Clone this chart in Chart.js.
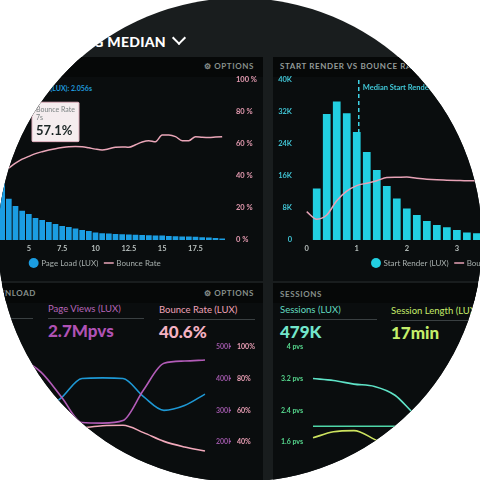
<!DOCTYPE html>
<html>
<head>
<meta charset="utf-8">
<script src="https://cdn.jsdelivr.net/npm/chart.js@4.4.1/dist/chart.umd.min.js"></script>
<style>
  html, body { margin: 0; padding: 0; background: #fff; }
  body { width: 480px; height: 480px; overflow: hidden; font-family: Lato, sans-serif; }
  #dash { position: absolute; left: -2px; top: -2px; width: 484px; height: 484px; border-radius: 50%; overflow: hidden; background: #191d1e; }
  #inner { position: absolute; left: 2px; top: 2px; width: 480px; height: 480px; }
  .panel { position: absolute; background: #0a0d0e; }
  .strip { position: absolute; left: 0; top: 0; right: 0; height: 20px; background: #060808; }
  .cap { position: absolute; font-weight: 700; font-size: 8px; letter-spacing: .6px; color: #86908c; white-space: nowrap; }
  .mlabel { position: absolute; font-size: 9.5px; white-space: nowrap; }
  .mvalue { position: absolute; font-size: 17px; font-weight: 900; white-space: nowrap; }
  .rule { position: absolute; height: 1px; background: #3a4042; }
  canvas { position: absolute; }
</style>
</head>
<body>
<div id="dash"><div id="inner">
  <div class="panel" style="left:-10px;top:57px;width:273px;height:224px"><div class="strip"></div></div>
  <div class="panel" style="left:273px;top:57px;width:220px;height:224px"><div class="strip"></div></div>
  <div class="panel" style="left:-10px;top:283px;width:273px;height:200px"><div class="strip"></div></div>
  <div class="panel" style="left:273px;top:283px;width:220px;height:200px"><div class="strip"></div></div>

  <div style="position:absolute;right:314px;top:33px;color:#fff;font-weight:900;font-size:14px;letter-spacing:.3px;white-space:nowrap">SHOWING MEDIAN</div>
  <div style="position:absolute;left:174px;top:33px;width:8px;height:8px;border-right:2.5px solid #fff;border-bottom:2.5px solid #fff;transform:rotate(45deg)"></div>

  <div class="cap" style="left:204px;top:61px">&#9881; OPTIONS</div>
  <div class="cap" style="left:280px;top:61px;color:#939b99">START RENDER VS BOUNCE RATE</div>
  <div style="position:absolute;right:388px;top:84px;font-size:7px;font-weight:700;color:#1f98da;white-space:nowrap">Median Page Load (LUX): 2.056s</div>

  <div class="cap" style="right:444px;top:288px">DOWNLOAD</div>
  <div class="cap" style="left:204px;top:288px">&#9881; OPTIONS</div>
  <div class="cap" style="left:280px;top:289px">SESSIONS</div>

  <div class="rule" style="left:-63px;top:318px;width:96px"></div>
  <div class="mlabel" style="left:48px;top:303px;color:#b766b9">Page Views (LUX)</div>
  <div class="rule" style="left:48px;top:318px;width:96px"></div>
  <div class="mvalue" style="left:48px;top:320px;color:#b052b5">2.7Mpvs</div>

  <div class="mlabel" style="left:159px;top:304px;color:#f0a3b9">Bounce Rate (LUX)</div>
  <div class="rule" style="left:159px;top:319px;width:96px"></div>
  <div class="mvalue" style="left:159px;top:321px;color:#f5b1c2">40.6%</div>

  <div class="mlabel" style="left:280px;top:304px;color:#62dcc0">Sessions (LUX)</div>
  <div class="rule" style="left:280px;top:319px;width:97px"></div>
  <div class="mvalue" style="left:280px;top:321px;color:#73e6cb">479K</div>

  <div class="mlabel" style="left:391px;top:305px;color:#c6ec6a">Session Length (LUX)</div>
  <div class="rule" style="left:391px;top:320px;width:96px"></div>
  <div class="mvalue" style="left:391px;top:322px;color:#c4ee6a">17min</div>

  <canvas id="loadChart" width="300" height="213" style="left:-40px;top:64px"></canvas>
  <canvas id="renderChart" width="312" height="213" style="left:270px;top:64px"></canvas>
  <canvas id="viewsChart" width="257" height="159" style="left:0px;top:331px"></canvas>
  <canvas id="sessionChart" width="210" height="159" style="left:270px;top:331px"></canvas>
</div></div>

<script>
// page load histogram (seconds, K page views, bounce %)
const loadSeconds = [0.5, 1, 1.5, 2, 2.5, 3, 3.5, 4, 4.5, 5, 5.5, 6, 6.5, 7, 7.5, 8, 8.5, 9, 9.5, 10,
  10.5, 11, 11.5, 12, 12.5, 13, 13.5, 14, 14.5, 15, 15.5, 16, 16.5, 17, 17.5, 18, 18.5, 19, 19.5];
const pageLoadViews = [4, 14, 22, 24, 20, 15.5, 10.3, 8.5, 7.3, 6.5, 5.5, 5.0, 4.5, 4.0, 3.5, 3.25, 2.85, 2.5, 2.25, 1.9,
  1.7, 1.6, 1.5, 1.45, 1.4, 1.3, 1.25, 1.2, 1.15, 1.1, 1.0, 0.95, 0.9, 0.85, 0.8, 0.7, 0.6, 0.5, 0.4];
const pageLoadBounce = [28, 31, 34, 37, 40, 42, 45, 48, 50.5, 52.3, 54, 55.2, 56.2, 57.1, 57.8, 58.3, 58.4, 58.3, 57.6, 56.8,
  56.3, 57, 58, 58.2, 57.9, 59.5, 61.3, 62.1, 61.4, 65.6, 65.6, 64.6, 62.1, 62.1, 64.6, 64.2, 64, 64.3, 64.6];
const percentTicks = [0, 20, 40, 60, 80, 100];
const hoverSecond = 7;

// start render histogram
const renderSeconds = ['0', '0.2', '0.4', '0.6', '0.8', '1', '1.2', '1.4', '1.6', '1.8', '2', '2.2', '2.4', '2.6',
  '2.8', '3', '3.2', '3.4', '3.6', '3.8', '4', '4.2', '4.4', '4.6', '4.8', '5', '5.2', '5.4'];
const startRenderViews = [0, 12900, 31500, 34600, 31700, 27000, 22000, 17500, 13500, 10400, 7900, 6250, 4750, 3750,
  3200, 2500, 1900, 1700, 1400, 1200, 1000, 900, 800, 700, 600, 500, 450, 400];
const startRenderBounce = [17.7, 13, 15.6, 24.5, 30.5, 34, 35.5, 37, 39, 39.2, 39.3, 38.6, 38, 37.6,
  37.4, 37.2, 37, 37, 37, 37, 37, 37, 37, 37, 37, 37, 37, 37];
const medianStartRender = 1.04;

// trend panels
const trendDays = ['Mar 1', 'Mar 2', 'Mar 3', 'Mar 4', 'Mar 5', 'Mar 6', 'Mar 7', 'Mar 8', 'Mar 9', 'Mar 10', 'Mar 11'];
const pageViewsK = [480, 462, 420, 342, 262, 260, 268, 364, 448, 455, 458];
const onloadViewsK = [230, 250, 290, 340, 400, 402, 400, 343, 300, 315, 351];
const bounceTrend = [44, 45.5, 47, 48, 49, 50.3, 50.6, 46, 40.5, 37, 34.4];

const sessionDays = ['Mar 4', 'Mar 5', 'Mar 6', 'Mar 7', 'Mar 8', 'Mar 9', 'Mar 10', 'Mar 11'];
const pagesPerSession = [3.2, 3.15, 3.06, 3.0, 2.78, 2.28, 1.95, 1.8];
const sessionsLevel = [2.0, 2.0, 2.0, 2.0, 2.0, 2.0, 2.0, 2.0];
const sessionLength = [1.71, 1.86, 1.89, 1.67, 1.4, 1.25, 1.2, 1.2];

Chart.defaults.font.family = "Lato, 'DejaVu Sans', sans-serif";
Chart.defaults.animation = false;
Chart.defaults.responsive = false;
Chart.defaults.events = [];

const tickFont = { size: 7.5, weight: 'bold' };
const noGrid = { display: false, drawTicks: false };
const noBorder = { display: false };

function legendOpts() {
  return {
    position: 'bottom',
    fullSize: false,
    labels: {
      usePointStyle: true, boxWidth: 7, boxHeight: 7, padding: 7,
      color: '#a8b0ae', font: { size: 8 },
      sort: (a, b) => a.datasetIndex - b.datasetIndex
    }
  };
}

// top left: page load vs bounce rate
const loadChart = new Chart(document.getElementById('loadChart'), {
  type: 'bar',
  data: {
    labels: loadSeconds,
    datasets: [{
      label: 'Page Load (LUX)',
      data: pageLoadViews,
      yAxisID: 'yViews',
      backgroundColor: '#1b9de2',
      pointStyle: 'circle',
      barPercentage: 0.85,
      categoryPercentage: 1,
      order: 1
    }, {
      type: 'line',
      label: 'Bounce Rate',
      data: pageLoadBounce,
      yAxisID: 'y',
      borderColor: '#eaa6b8',
      borderWidth: 1.5,
      pointRadius: 0,
      pointStyle: 'line',
      cubicInterpolationMode: 'monotone',
      order: 0
    }]
  },
  options: {
    layout: { padding: { left: 5.5, top: 16 } },
    scales: {
      x: {
        grid: noGrid, border: noBorder,
        afterFit: s => { s.height = 12; },
        ticks: {
          color: '#b7bfbd', font: tickFont, padding: 4, autoSkip: false, maxRotation: 0,
          callback: (v, i) => (loadSeconds[i] >= 5 && loadSeconds[i] % 2.5 === 0) ? String(loadSeconds[i]) : ''
        }
      },
      yViews: { position: 'left', display: false, min: 0, max: 40 },
      y: {
        position: 'right', min: 0, max: 100,
        grid: noGrid, border: noBorder,
        afterBuildTicks: s => { s.ticks = percentTicks.map(v => ({ value: v })); },
        afterFit: s => { s.width = 34.5; },
        ticks: { color: '#e49ab0', font: tickFont, padding: 10.5, callback: v => v + ' %' }
      }
    },
    plugins: {
      legend: legendOpts(),
      tooltip: {
        displayColors: false,
        backgroundColor: '#f5edef',
        borderColor: '#e3b3c1',
        borderWidth: 1,
        cornerRadius: 1,
        caretSize: 0,
        caretPadding: 7,
        xAlign: 'center',
        yAlign: 'bottom',
        padding: { left: 4, right: 4, top: 3, bottom: 3 },
        titleColor: '#7a8282',
        titleFont: { size: 7, weight: 'normal' },
        titleSpacing: 0,
        titleMarginBottom: 1,
        bodyColor: '#1b2626',
        bodyFont: { size: 13, weight: 'bold' },
        callbacks: {
          title: items => ['Bounce Rate', loadSeconds[items[0].dataIndex] + 's'],
          label: ctx => ctx.parsed.y.toFixed(1) + '%'
        }
      }
    }
  }
});
loadChart.tooltip.setActiveElements([{ datasetIndex: 1, index: loadSeconds.indexOf(hoverSecond) }], { x: 0, y: 0 });
loadChart.update();

// dashed median marker for the start render histogram
const medianLine = {
  id: 'medianLine',
  afterDatasetsDraw(chart) {
    const x = chart.scales.x.getPixelForValue(medianStartRender / 0.2);
    const bar = startRenderViews[Math.round(medianStartRender / 0.2)];
    const yTop = chart.chartArea.top;
    const yEnd = chart.scales.y.getPixelForValue(bar);
    const ctx = chart.ctx;
    ctx.save();
    ctx.strokeStyle = '#3fd3e6';
    ctx.lineWidth = 1.5;
    ctx.setLineDash([4, 3]);
    ctx.beginPath();
    ctx.moveTo(x, yTop);
    ctx.lineTo(x, yEnd);
    ctx.stroke();
    ctx.fillStyle = '#41c9d9';
    ctx.font = "bold 7.5px Lato, sans-serif";
    ctx.textBaseline = 'middle';
    ctx.fillText('Median Start Render', x + 4, yTop + 8);
    ctx.restore();
  }
};

// top right: start render vs bounce rate
new Chart(document.getElementById('renderChart'), {
  type: 'bar',
  data: {
    labels: renderSeconds,
    datasets: [{
      label: 'Start Render (LUX)',
      data: startRenderViews,
      yAxisID: 'y',
      backgroundColor: '#22cfe1',
      pointStyle: 'circle',
      barPercentage: 0.77,
      categoryPercentage: 1,
      order: 1
    }, {
      type: 'line',
      label: 'Bounce Rate',
      data: startRenderBounce,
      yAxisID: 'yRate',
      borderColor: '#e7a2b6',
      borderWidth: 1.5,
      pointRadius: 0,
      pointStyle: 'line',
      cubicInterpolationMode: 'monotone',
      order: 0
    }]
  },
  options: {
    layout: { padding: { top: 16 } },
    scales: {
      x: {
        grid: noGrid, border: noBorder,
        afterFit: s => { s.height = 12; },
        ticks: {
          color: '#b5bdbb', font: tickFont, padding: 4, autoSkip: false, maxRotation: 0,
          callback: (v, i) => i % 5 === 0 ? renderSeconds[i] : ''
        }
      },
      y: {
        position: 'left', min: 0, max: 40000,
        grid: noGrid, border: noBorder,
        afterFit: s => { s.width = 31.7; },
        ticks: { stepSize: 8000, color: '#40c3d3', font: tickFont, padding: 9.7, callback: v => v === 0 ? '0' : (v / 1000) + 'K' }
      },
      yRate: { position: 'right', display: false, min: 0, max: 100 }
    },
    plugins: { legend: legendOpts(), tooltip: { enabled: false } }
  },
  plugins: [medianLine]
});

function trendLine(label, data, color, axis) {
  return { label, data, yAxisID: axis, borderColor: color, borderWidth: 1.6, pointRadius: 0, cubicInterpolationMode: 'monotone' };
}

// bottom left: page views, onload and bounce trend
new Chart(document.getElementById('viewsChart'), {
  type: 'line',
  data: {
    labels: trendDays,
    datasets: [
      trendLine('Page Views (LUX)', pageViewsK, '#b35cb8', 'yK'),
      trendLine('Onload (LUX)', onloadViewsK, '#1e98d4', 'yK'),
      trendLine('Bounce Rate (LUX)', bounceTrend, '#f2a9bb', 'yP')
    ]
  },
  options: {
    layout: { padding: { top: 15.7, bottom: 16 } },
    scales: {
      x: { display: false },
      yK: {
        position: 'right', min: 100, max: 500,
        grid: noGrid, border: noBorder,
        afterBuildTicks: s => { s.ticks = s.ticks.filter(t => t.value >= 200); },
        afterFit: s => { s.width = 26; },
        ticks: { stepSize: 100, color: '#9c56a6', font: { size: 7, weight: 'bold' }, padding: 11, callback: v => v + 'K' }
      },
      yP: {
        position: 'right', min: 20, max: 100,
        grid: noGrid, border: noBorder,
        afterBuildTicks: s => { s.ticks = s.ticks.filter(t => t.value >= 40); },
        afterFit: s => { s.width = 26; },
        ticks: { stepSize: 20, color: '#ea9fb5', font: { size: 7, weight: 'bold' }, padding: 6, callback: v => v + '%' }
      }
    },
    plugins: { legend: { display: false }, tooltip: { enabled: false } }
  }
});

// bottom right: sessions
new Chart(document.getElementById('sessionChart'), {
  type: 'line',
  data: {
    labels: sessionDays,
    datasets: [
      trendLine('Pages per Session', pagesPerSession, '#5fe3c7', 'y'),
      trendLine('Sessions (LUX)', sessionsLevel, '#4fd6a8', 'y'),
      trendLine('Session Length (LUX)', sessionLength, '#cde35f', 'y')
    ]
  },
  options: {
    layout: { padding: { top: 15.7, bottom: 16, right: 23.5 } },
    scales: {
      x: { display: false },
      y: {
        position: 'left', min: 0.8, max: 4,
        grid: noGrid, border: noBorder,
        afterBuildTicks: s => { s.ticks = s.ticks.filter(t => t.value >= 1.59); },
        afterFit: s => { s.width = 43; },
        ticks: { stepSize: 0.8, color: '#56d88e', font: { size: 7, weight: 'bold' }, padding: 10, callback: v => Number(v.toFixed(1)) + ' pvs' }
      }
    },
    plugins: { legend: { display: false }, tooltip: { enabled: false } }
  }
});
</script>
</body>
</html>
